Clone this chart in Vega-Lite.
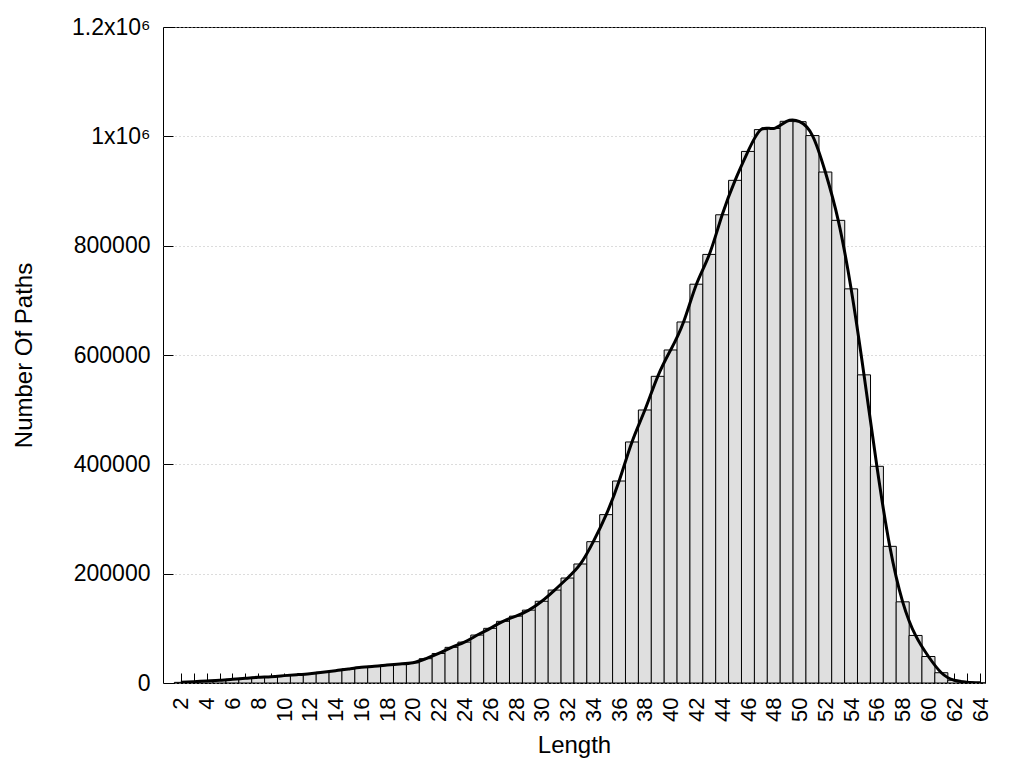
{
  "$schema": "https://vega.github.io/schema/vega-lite/v6.json",
  "autosize": {"type": "none"},
  "padding": {"left": 163, "top": 27, "right": 39, "bottom": 85},
  "width": 822,
  "height": 656,
  "background": "white",
  "config": {
    "view": {"stroke": "black", "strokeWidth": 1},
    "font": "Liberation Sans",
    "axis": {
      "domain": false,
      "labelFont": "Liberation Sans",
      "titleFont": "Liberation Sans",
      "labelColor": "black",
      "titleColor": "black",
      "tickColor": "black",
      "titleFontWeight": "normal"
    }
  },
  "data": {
    "values": [
      {"length": 2, "paths": 1200}, {"length": 3, "paths": 2400}, {"length": 4, "paths": 3700},
      {"length": 5, "paths": 4900}, {"length": 6, "paths": 6700}, {"length": 7, "paths": 8600},
      {"length": 8, "paths": 10400}, {"length": 9, "paths": 11600}, {"length": 10, "paths": 13500},
      {"length": 11, "paths": 15300}, {"length": 12, "paths": 17100}, {"length": 13, "paths": 19600},
      {"length": 14, "paths": 22600}, {"length": 15, "paths": 25700}, {"length": 16, "paths": 28700},
      {"length": 17, "paths": 30600}, {"length": 18, "paths": 33000}, {"length": 19, "paths": 34900},
      {"length": 20, "paths": 37000}, {"length": 21, "paths": 44500}, {"length": 22, "paths": 54000},
      {"length": 23, "paths": 65200}, {"length": 24, "paths": 74800}, {"length": 25, "paths": 87700},
      {"length": 26, "paths": 100000}, {"length": 27, "paths": 112800}, {"length": 28, "paths": 122300},
      {"length": 29, "paths": 133300}, {"length": 30, "paths": 149500}, {"length": 31, "paths": 170000},
      {"length": 32, "paths": 192000}, {"length": 33, "paths": 217700}, {"length": 34, "paths": 258500},
      {"length": 35, "paths": 308000}, {"length": 36, "paths": 369500}, {"length": 37, "paths": 440900},
      {"length": 38, "paths": 499400}, {"length": 39, "paths": 561000}, {"length": 40, "paths": 609200},
      {"length": 41, "paths": 660400}, {"length": 42, "paths": 729500}, {"length": 43, "paths": 784000},
      {"length": 44, "paths": 856500}, {"length": 45, "paths": 919500}, {"length": 46, "paths": 972400},
      {"length": 47, "paths": 1012300}, {"length": 48, "paths": 1014400}, {"length": 49, "paths": 1027500},
      {"length": 50, "paths": 1026800}, {"length": 51, "paths": 1001400}, {"length": 52, "paths": 934700},
      {"length": 53, "paths": 846300}, {"length": 54, "paths": 721000}, {"length": 55, "paths": 563700},
      {"length": 56, "paths": 396400}, {"length": 57, "paths": 250000}, {"length": 58, "paths": 148500},
      {"length": 59, "paths": 87000}, {"length": 60, "paths": 48500}, {"length": 61, "paths": 18800},
      {"length": 62, "paths": 5000}, {"length": 63, "paths": 1500}, {"length": 64, "paths": 300}
    ]
  },
  "encoding": {
    "x": {
      "field": "length",
      "type": "quantitative",
      "scale": {"domain": [1, 64], "nice": false, "zero": false},
      "axis": {
        "title": "Length",
        "titleFontSize": 24,
        "titleY": 69,
        "titleBaseline": "alphabetic",
        "values": [2,3,4,5,6,7,8,9,10,11,12,13,14,15,16,17,18,19,20,21,22,23,24,25,26,27,28,29,30,31,32,33,34,35,36,37,38,39,40,41,42,43,44,45,46,47,48,49,50,51,52,53,54,55,56,57,58,59,60,61,62,63,64],
        "labelExpr": "datum.value % 2 == 0 ? datum.label : ''",
        "labelAngle": -90,
        "labelAlign": "right",
        "labelBaseline": "middle",
        "labelFontSize": 22,
        "labelFlush": false,
        "labelOverlap": false,
        "labelPadding": 24,
        "tickSize": -10,
        "grid": false
      }
    },
    "y": {
      "field": "paths",
      "type": "quantitative",
      "scale": {"domain": [0, 1200000], "nice": false},
      "axis": {
        "title": "Number Of Paths",
        "titleFontSize": 24,
        "titleX": -132,
        "titleBaseline": "alphabetic",
        "values": [0, 200000, 400000, 600000, 800000, 1000000, 1200000],
        "labelExpr": "datum.value == 1000000 ? '1x10⁶' : datum.value == 1200000 ? '1.2x10⁶' : format(datum.value, 'd')",
        "labelFontSize": 23,
        "labelFlush": false,
        "labelOverlap": false,
        "labelPadding": 23,
        "tickSize": -10,
        "grid": true,
        "gridColor": "#b8b8b8",
        "gridDash": [1, 3],
        "gridWidth": 1
      }
    }
  },
  "layer": [
    {
      "mark": {"type": "bar", "size": 13.05, "fill": "#dfdfdf", "stroke": "black", "strokeWidth": 1, "clip": true}
    },
    {
      "mark": {"type": "line", "interpolate": "natural", "color": "black", "strokeWidth": 3, "clip": true}
    }
  ]
}
